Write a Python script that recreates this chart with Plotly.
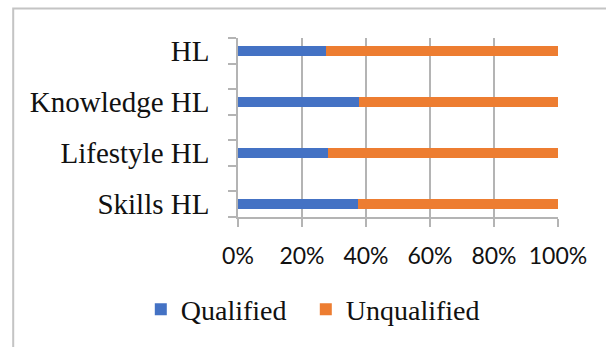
import plotly.graph_objects as go

categories = ["Skills HL", "Lifestyle HL", "Knowledge HL", "HL"]
qualified = [37.5, 28.0, 37.9, 27.6]
unqualified = [100 - v for v in qualified]
x_ticks = [0, 20, 40, 60, 80, 100]
x_ticklabels = ["0%", "20%", "40%", "60%", "80%", "100%"]

# categories sit on every other slot (Excel layout with blank rows between)
ypos = [2 * i for i in range(len(categories))]
boundaries = [i - 0.5 for i in range(2 * len(categories))]

BLUE = "#4472C4"
ORANGE = "#ED7D31"
GRID = "#b4b4b4"
SERIF = "Liberation Serif"

fig = go.Figure()
fig.add_trace(go.Bar(y=ypos, x=qualified, orientation="h", name="Qualified",
                     marker=dict(color=BLUE, line=dict(width=0)), width=0.4,
                     legendwidth=120))
fig.add_trace(go.Bar(y=ypos, x=unqualified, orientation="h", name="Unqualified",
                     marker=dict(color=ORANGE, line=dict(width=0)), width=0.4,
                     legendwidth=170))

L, R, T, B = 237.5, 47.5, 38.3, 130.3
W, H = 606, 347
pw, ph = W - L - R, H - T - B

fig.update_layout(
    barmode="stack",
    width=W, height=H,
    margin=dict(l=L, r=R, t=T, b=B, pad=0),
    paper_bgcolor="white", plot_bgcolor="white",
    showlegend=True,
    legend=dict(orientation="h", traceorder="normal",
                x=(140 - L) / pw, xanchor="left",
                y=(216.7 - 309) / ph, yanchor="middle",
                font=dict(family=SERIF, size=28, color="#111111"),
                bgcolor="rgba(0,0,0,0)"),
    xaxis=dict(range=[0, 100], tickvals=x_ticks, ticktext=x_ticklabels,
               showgrid=True, gridcolor=GRID, gridwidth=1.5,
               showline=True, linecolor=GRID, linewidth=1.5,
               ticks="outside", ticklen=8, tickcolor=GRID, tickwidth=1.5,
               ticklabelstandoff=10,
               tickfont=dict(family="Lato", size=23, color="#111111"),
               zeroline=False, fixedrange=True),
    yaxis=dict(range=[-0.5, 2 * len(categories) - 1.5],
               tickvals=ypos, ticktext=categories,
               showgrid=False, zeroline=False,
               showline=True, linecolor=GRID, linewidth=1.5,
               ticks="", ticklabelstandoff=21,
               tickfont=dict(family=SERIF, size=29, color="#111111"),
               minor=dict(tickvals=boundaries, ticks="outside", ticklen=8,
                          tickcolor=GRID, tickwidth=1.5, showgrid=False),
               fixedrange=True),
)

# outer chart frame (top and left edges visible in the crop)
fig.add_shape(type="rect", xref="paper", yref="paper",
              x0=(12 - L) / pw, x1=(700 - L) / pw,
              y0=(216.7 - 9) / ph, y1=(216.7 - 400) / ph,
              line=dict(color="#c4c4c4", width=2), fillcolor="rgba(0,0,0,0)",
              layer="below")

fig.write_html("out.html")
